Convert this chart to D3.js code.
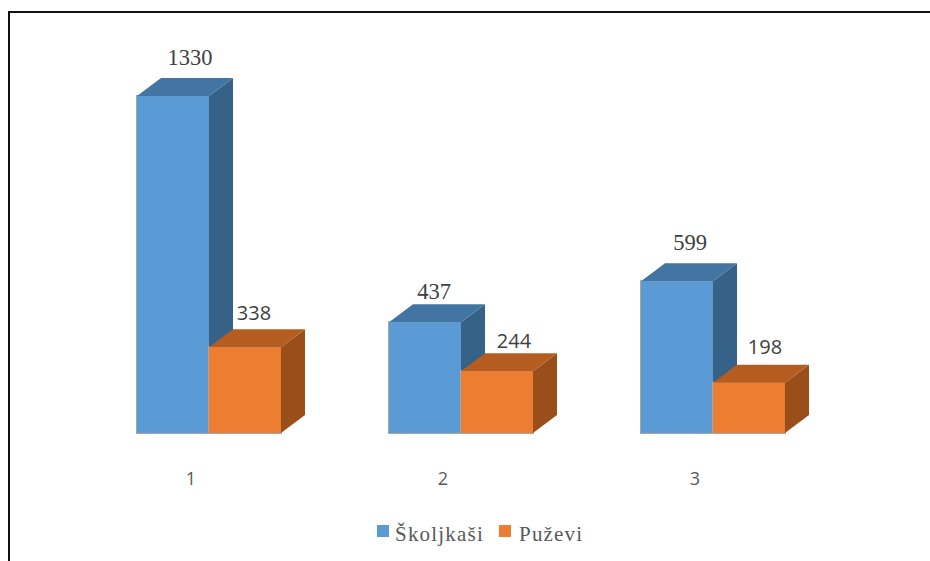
<!DOCTYPE html>
<html>
<head>
<meta charset="utf-8">
<script src="https://cdn.jsdelivr.net/npm/d3@7"></script>
<style>
  html, body { margin: 0; padding: 0; background: #fff; }
  svg { display: block; }
</style>
</head>
<body>
<svg></svg>
<script>
// 3D clustered columns: mollusc counts per site

var categories = ["1", "2", "3"];
var seriesNames = ["Školjkaši", "Puževi"];
var skoljkasi = [1330, 437, 599];
var puzevi = [338, 244, 198];

var seriesValues = [skoljkasi, puzevi];
var front = ["#5b9bd5", "#ed7d31"];
var top_ = ["#4375a3", "#b55d20"];
var side = ["#366288", "#9a4f1a"];

// the label of each column sits a bit off centre in the picture
var labelDx = [[17, 9, 13], [9, 17, 16]];
var labelDy = [[-31, -23, -31], [-27, -23, -29]];
var labelFont = ["Liberation Serif", "Open Sans"];
var labelSize = [22.5, 20];

var width = 930;
var height = 561;
var baseY = 433;
var depthX = 24;
var depthY = 18;

var svg = d3.select("svg")
    .attr("width", width)
    .attr("height", height);

// outer frame, only top and left show up in the crop
svg.append("path")
    .attr("d", "M930,12H9V561")
    .attr("fill", "none")
    .attr("stroke", "#111")
    .attr("stroke-width", 2);

var x0 = d3.scaleBand()
    .domain(categories)
    .range([83, 839])
    .paddingInner(108 / 252)
    .paddingOuter(54 / 252);

var x1 = d3.scaleBand()
    .domain(d3.range(seriesNames.length))
    .range([0, x0.bandwidth()]);

var y = d3.scaleLinear()
    .domain([0, 1330])
    .range([baseY, 96]);

// flat list of columns, back to front order is just left to right here
var bars = [];
categories.forEach(function(c, i) {
    seriesNames.forEach(function(s, j) {
        bars.push({ cat: c, ci: i, si: j, value: seriesValues[j][i] });
    });
});

var bar = svg.selectAll("g.bar")
    .data(bars)
    .enter()
    .append("g")
    .attr("class", "bar");

// soft grey edge under the columns
bar.append("rect")
    .attr("x", function(d) { return x0(d.cat) + x1(d.si) - 1; })
    .attr("y", function(d) { return y(d.value) - 1; })
    .attr("width", x1.bandwidth() + 2)
    .attr("height", function(d) { return baseY - y(d.value) + 2; })
    .attr("fill", "#a6a6a6");

bar.append("path")
    .attr("fill", function(d) { return side[d.si]; })
    .attr("d", function(d) {
        var r = x0(d.cat) + x1(d.si) + x1.bandwidth();
        var t = y(d.value);
        return "M" + r + "," + t + "l" + depthX + "," + (-depthY) +
            "V" + (baseY - depthY) + "l" + (-depthX) + "," + depthY + "Z";
    });

bar.append("path")
    .attr("fill", function(d) { return top_[d.si]; })
    .attr("d", function(d) {
        var l = x0(d.cat) + x1(d.si);
        var t = y(d.value);
        return "M" + l + "," + t + "l" + depthX + "," + (-depthY) +
            "h" + x1.bandwidth() + "l" + (-depthX) + "," + depthY + "Z";
    });

bar.append("rect")
    .attr("x", function(d) { return x0(d.cat) + x1(d.si); })
    .attr("y", function(d) { return y(d.value); })
    .attr("width", x1.bandwidth())
    .attr("height", function(d) { return baseY - y(d.value); })
    .attr("fill", function(d) { return front[d.si]; });

// value labels
svg.selectAll("text.value")
    .data(bars)
    .enter()
    .append("text")
    .attr("class", "value")
    .attr("text-anchor", "middle")
    .attr("x", function(d) { return x0(d.cat) + x1(d.si) + x1.bandwidth() / 2 + labelDx[d.si][d.ci]; })
    .attr("y", function(d) { return y(d.value) + labelDy[d.si][d.ci]; })
    .attr("font-family", function(d) { return labelFont[d.si]; })
    .attr("font-size", function(d) { return labelSize[d.si]; })
    .attr("fill", "#404040")
    .text(function(d) { return d.value; });

// category axis, no line, only the labels
var xAxis = d3.axisBottom(x0).tickSize(0).tickPadding(0);
var axisG = svg.append("g")
    .attr("transform", "translate(-18," + (baseY + 39) + ")")
    .call(xAxis);
axisG.select(".domain").remove();
axisG.selectAll("text")
    .attr("font-family", "Open Sans")
    .attr("font-size", 18)
    .attr("fill", "#595959");

// legend
var legendSquareX = [377, 499];
var legendTextX = [18, 20];
var legend = svg.selectAll("g.legend")
    .data(seriesNames)
    .enter()
    .append("g")
    .attr("class", "legend")
    .attr("transform", function(d, i) { return "translate(" + legendSquareX[i] + ",525)"; });

legend.append("rect")
    .attr("width", 12)
    .attr("height", 12)
    .attr("fill", function(d, i) { return front[i]; });

legend.append("text")
    .attr("x", function(d, i) { return legendTextX[i]; })
    .attr("y", 16)
    .attr("font-family", "Liberation Serif")
    .attr("font-size", 21)
    .attr("letter-spacing", 1.2)
    .attr("fill", "#595959")
    .text(function(d) { return d; });
</script>
</body>
</html>
